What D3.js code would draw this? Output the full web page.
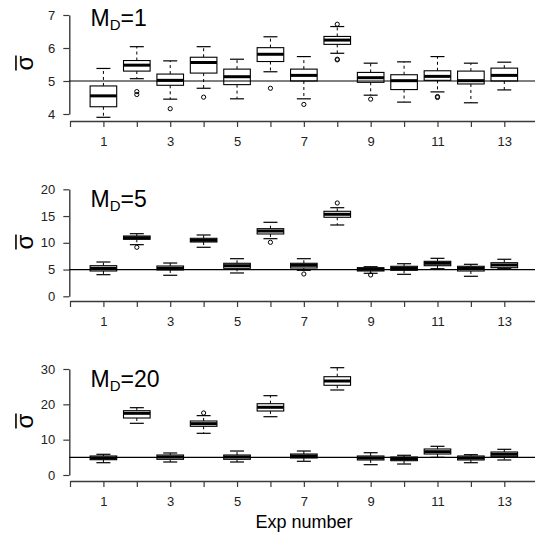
<!DOCTYPE html>
<html>
<head>
<meta charset="utf-8">
<script src="https://cdn.jsdelivr.net/npm/d3@7"></script>
<style>
  html, body { margin: 0; padding: 0; background: #fff; }
  svg { display: block; font-family: "Liberation Sans", Arial, Helvetica, sans-serif; }
</style>
</head>
<body>
<svg id="chart" width="535" height="535"></svg>
<script>
// Experiment numbers on the x axis
const experiments = [1, 2, 3, 4, 5, 6, 7, 8, 9, 10, 11, 12, 13];
const xTickLabels = [1, 3, 5, 7, 9, 11, 13];

// Box statistics per experiment: [lower whisker, Q1, median, Q3, upper whisker]
const md1Box = [
  [3.90, 4.22, 4.55, 4.85, 5.38],
  [5.07, 5.30, 5.48, 5.62, 6.04],
  [4.45, 4.87, 5.02, 5.21, 5.61],
  [4.78, 5.24, 5.56, 5.72, 6.04],
  [4.46, 4.89, 5.13, 5.36, 5.66],
  [5.28, 5.59, 5.81, 6.01, 6.34],
  [4.46, 5.00, 5.17, 5.36, 5.74],
  [5.84, 6.11, 6.24, 6.35, 6.65],
  [4.57, 4.96, 5.10, 5.26, 5.54],
  [4.36, 4.74, 5.01, 5.19, 5.58],
  [4.67, 5.02, 5.14, 5.31, 5.74],
  [4.34, 4.91, 5.01, 5.30, 5.54],
  [4.73, 5.00, 5.17, 5.39, 5.57]
];
// Outliers: [experiment, value]
const md1Outliers = [
  [2, 4.68], [2, 4.59], [3, 4.16], [4, 4.51], [6, 4.78], [7, 4.29],
  [8, 6.72], [8, 5.66], [8, 5.64], [9, 4.45], [11, 4.53], [11, 4.50]
];

const md5Box = [
  [4.04, 4.73, 5.23, 5.72, 6.41],
  [9.65, 10.65, 10.95, 11.27, 11.70],
  [3.93, 4.92, 5.23, 5.66, 6.22],
  [9.16, 10.15, 10.47, 10.84, 11.46],
  [4.36, 5.23, 5.72, 6.17, 7.03],
  [10.77, 11.65, 12.20, 12.64, 13.83],
  [4.86, 5.29, 5.79, 6.17, 7.03],
  [13.33, 14.77, 15.33, 15.89, 16.56],
  [4.30, 4.73, 5.05, 5.35, 5.53],
  [4.11, 4.86, 5.23, 5.61, 6.09],
  [5.16, 5.72, 6.17, 6.54, 7.10],
  [3.74, 4.73, 5.23, 5.61, 5.98],
  [5.16, 5.35, 5.85, 6.28, 6.92]
];
const md5Outliers = [
  [2, 9.16], [6, 10.09], [7, 4.17], [8, 17.44], [9, 3.98]
];

const md20Box = [
  [3.48, 4.33, 4.81, 5.38, 5.86],
  [14.63, 16.13, 17.46, 18.20, 19.05],
  [3.68, 4.44, 5.09, 5.66, 6.23],
  [11.80, 13.78, 14.53, 15.28, 16.80],
  [3.68, 4.44, 5.09, 5.66, 6.79],
  [16.50, 18.11, 19.16, 20.18, 22.45],
  [3.88, 4.81, 5.38, 5.94, 6.79],
  [24.06, 25.39, 26.60, 27.82, 30.37],
  [2.92, 4.25, 4.81, 5.38, 6.31],
  [3.11, 4.05, 4.61, 5.09, 5.58],
  [5.00, 5.94, 6.60, 7.36, 8.12],
  [3.48, 4.25, 4.81, 5.38, 5.75],
  [4.25, 5.18, 5.86, 6.51, 7.27]
];
const md20Outliers = [
  [4, 17.55]
];

// Y tick values per panel and the panel tags (M_D values)
const md1Ticks = [4, 5, 6, 7];
const md5Ticks = [0, 5, 10, 15, 20];
const md20Ticks = [0, 10, 20, 30];
const mdValues = ["1", "5", "20"];
const referenceLevel = 5;

const svg = d3.select("#chart");

// Shared x scale: position 0 sits on the y axis
const x = d3.scaleLinear().domain([0, 14]).range([70, 537.7]);
const boxHalf = 13.3;
const capHalf = 7;
const axisColor = "#3a3a3a";

const panels = [
  { box: md1Box, out: md1Outliers, ticks: md1Ticks, domain: [4, 7], top: 15, bottom: 114, xAxisY: 121, tagY: 26, labY: 63 },
  { box: md5Box, out: md5Outliers, ticks: md5Ticks, domain: [0, 20], top: 189.3, bottom: 296.3, xAxisY: 301, tagY: 206.5, labY: 242 },
  { box: md20Box, out: md20Outliers, ticks: md20Ticks, domain: [0, 30], top: 369, bottom: 475, xAxisY: 481, tagY: 387, labY: 421 }
];

// Sigma-bar label drawn bottom-to-top at (cx, cy)
function sigmaLabel(parent, cx, cy, size) {
  const lab = parent.append("g").attr("transform", `translate(${cx},${cy}) rotate(-90)`);
  lab.append("text").attr("text-anchor", "middle").attr("font-size", size).attr("fill", "#000").text("σ");
  lab.append("line")
    .attr("x1", -size * 0.31).attr("x2", size * 0.31)
    .attr("y1", -size * 0.71).attr("y2", -size * 0.71)
    .attr("stroke", "#000").attr("stroke-width", size / 15);
}

panels.forEach((p, pi) => {
  const y = d3.scaleLinear().domain(p.domain).range([p.bottom, p.top]);
  const g = svg.append("g");

  // Y axis
  const yAxis = g.append("g")
    .attr("transform", "translate(69.3,0)")
    .call(d3.axisLeft(y).tickValues(p.ticks).tickFormat(d3.format("d"))
      .tickSize(6).tickSizeOuter(0).tickPadding(8));
  yAxis.select(".domain").attr("stroke", axisColor).attr("stroke-width", 1.4);
  yAxis.selectAll(".tick line").attr("stroke", axisColor).attr("stroke-width", 1.2);
  yAxis.selectAll(".tick text").attr("font-size", 13).attr("fill", "#222")
    .attr("font-family", "Liberation Sans, Arial, sans-serif");

  // X axis
  const xAxis = g.append("g")
    .attr("transform", `translate(0,${p.xAxisY})`)
    .call(d3.axisBottom(x).tickValues(d3.range(0, 15)).tickSize(6).tickSizeOuter(0).tickPadding(10)
      .tickFormat(d => xTickLabels.includes(d) ? d : ""));
  xAxis.select(".domain").attr("stroke", axisColor).attr("stroke-width", 1.4);
  xAxis.selectAll(".tick line").attr("stroke", axisColor).attr("stroke-width", 1.2);
  xAxis.selectAll(".tick text").attr("font-size", 13).attr("fill", "#222")
    .attr("font-family", "Liberation Sans, Arial, sans-serif");

  // Boxes
  const boxes = g.append("g").selectAll("g.box")
    .data(p.box.map((s, i) => ({ exp: experiments[i], s })))
    .join("g").attr("class", "box");

  boxes.append("line") // upper whisker
    .attr("x1", d => x(d.exp)).attr("x2", d => x(d.exp))
    .attr("y1", d => y(d.s[3])).attr("y2", d => y(d.s[4]))
    .attr("stroke", "#000").attr("stroke-width", 1).attr("stroke-dasharray", "3,3");
  boxes.append("line") // lower whisker
    .attr("x1", d => x(d.exp)).attr("x2", d => x(d.exp))
    .attr("y1", d => y(d.s[1])).attr("y2", d => y(d.s[0]))
    .attr("stroke", "#000").attr("stroke-width", 1).attr("stroke-dasharray", "3,3");
  boxes.append("line") // upper staple
    .attr("x1", d => x(d.exp) - capHalf).attr("x2", d => x(d.exp) + capHalf)
    .attr("y1", d => y(d.s[4])).attr("y2", d => y(d.s[4]))
    .attr("stroke", "#000").attr("stroke-width", 1.2);
  boxes.append("line") // lower staple
    .attr("x1", d => x(d.exp) - capHalf).attr("x2", d => x(d.exp) + capHalf)
    .attr("y1", d => y(d.s[0])).attr("y2", d => y(d.s[0]))
    .attr("stroke", "#000").attr("stroke-width", 1.2);
  boxes.append("rect")
    .attr("x", d => x(d.exp) - boxHalf).attr("width", boxHalf * 2)
    .attr("y", d => y(d.s[3])).attr("height", d => y(d.s[1]) - y(d.s[3]))
    .attr("fill", "#fff").attr("stroke", "#000").attr("stroke-width", 1.1);
  boxes.append("line") // median
    .attr("x1", d => x(d.exp) - boxHalf).attr("x2", d => x(d.exp) + boxHalf)
    .attr("y1", d => y(d.s[2])).attr("y2", d => y(d.s[2]))
    .attr("stroke", "#000").attr("stroke-width", 3);

  // Outliers
  g.append("g").selectAll("circle")
    .data(p.out)
    .join("circle")
    .attr("cx", d => x(d[0])).attr("cy", d => y(d[1])).attr("r", 2.1)
    .attr("fill", "none").attr("stroke", "#000").attr("stroke-width", 1);

  // Reference level
  g.append("line")
    .attr("x1", 69.3).attr("x2", 535)
    .attr("y1", y(referenceLevel)).attr("y2", y(referenceLevel))
    .attr("stroke", "#000").attr("stroke-width", 1.2);

  // Panel tag M_D=...
  const tag = g.append("text")
    .attr("x", 90.5).attr("y", p.tagY)
    .attr("font-size", 23).attr("fill", "#000");
  tag.append("tspan").text("M");
  tag.append("tspan").attr("font-size", 15).attr("dy", 4).text("D");
  tag.append("tspan").attr("dy", -4).text("=" + mdValues[pi]);

  sigmaLabel(g, 33, p.labY, 24);
});

// X axis title
svg.append("text")
  .attr("x", 304).attr("y", 528)
  .attr("text-anchor", "middle").attr("font-size", 18).attr("fill", "#000")
  .text("Exp number");
</script>
</body>
</html>
